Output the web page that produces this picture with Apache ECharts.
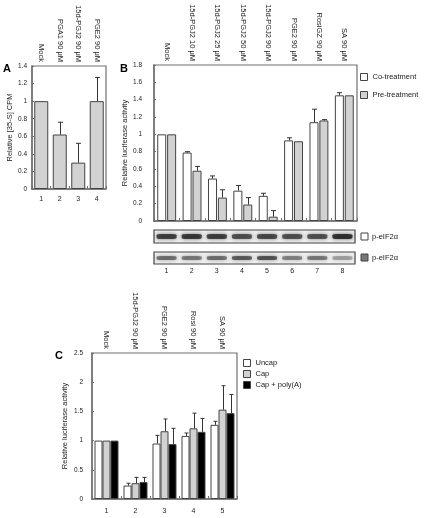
<!DOCTYPE html>
<html><head><meta charset="utf-8">
<script src="https://cdn.jsdelivr.net/npm/echarts@6/dist/echarts.min.js"></script>
<style>html,body{margin:0;padding:0;background:#fff}#c{width:425px;height:518px}</style>
</head><body><div id="c"></div>
<script>
// Panel A
const aCats = ['Mock','PGA1 90 μM','15d-PGJ2 90 μM','PGE2 90 μM'];
const aNums = ['1','2','3','4'];
const aVals = [1, 0.62, 0.30, 1.0];
const aErr  = [0, 0.14, 0.22, 0.27];
// Panel B
const bCats = ['Mock','15d-PGJ2 10 μM','15d-PGJ2 25 μM','15d-PGJ2 50 μM','15d-PGJ2 90 μM','PGE2 90 μM','RosiGZ 90 μM','SA 90 μM'];
const bNums = ['1','2','3','4','5','6','7','8'];
const bCo     = [1, 0.79, 0.49, 0.35, 0.29, 0.93, 1.14, 1.45];
const bCoErr  = [0, 0.01, 0.03, 0.06, 0.03, 0.03, 0.15, 0.03];
const bPre    = [1, 0.58, 0.27, 0.19, 0.05, 0.92, 1.16, 1.45];
const bPreErr = [0, 0.05, 0.09, 0.08, 0.07, 0, 0.01, 0];
// Western blot band intensities (lanes 1-8)
const blotCo  = [0.85, 0.9, 0.85, 0.75, 0.8, 0.75, 0.75, 0.95];
const blotPre = [0.6, 0.55, 0.6, 0.7, 0.75, 0.5, 0.55, 0.35];
// Panel C
const cCats = ['Mock','15d-PGJ2 90 μM','PGE2 90 μM','Rosi 90 μM','SA 90 μM'];
const cNums = ['1','2','3','4','5'];
const cUncap    = [1, 0.23, 0.95, 1.08, 1.27];
const cUncapErr = [0, 0.04, 0.14, 0.05, 0.06];
const cCap      = [1, 0.27, 1.16, 1.21, 1.53];
const cCapErr   = [0, 0.10, 0.21, 0.26, 0.41];
const cPoly     = [1, 0.29, 0.94, 1.15, 1.47];
const cPolyErr  = [0, 0.08, 0.27, 0.23, 0.32];

const FONT = 'Liberation Sans, Arial, sans-serif';
const AX = '#707070';
const GRAY = '#d2d2d2';
const EDGE = '#444';

function errSeries(xi, yi, vals, errs, offset, capW) {
  return {
    type: 'custom', xAxisIndex: xi, yAxisIndex: yi, z: 5, silent: true,
    data: vals.map((v, i) => [i, v, v + errs[i]]),
    encode: { x: 0, y: [1, 2] },
    renderItem: (params, api) => {
      const i = api.value(0), lo = api.value(1), hi = api.value(2);
      if (hi - lo < 1e-6) return null;
      const p0 = api.coord([i, lo]), p1 = api.coord([i, hi]);
      const x = Math.round(p0[0] + offset) + 0.5;
      const st = { stroke: '#333', lineWidth: 1 };
      return { type: 'group', children: [
        { type: 'line', shape: { x1: x, y1: p0[1], x2: x, y2: p1[1] }, style: st },
        { type: 'line', shape: { x1: x - capW / 2, y1: p1[1], x2: x + capW / 2, y2: p1[1] }, style: st }
      ]};
    }
  };
}
function bar(name, xi, yi, data, color, w, gap) {
  return { name, type: 'bar', xAxisIndex: xi, yAxisIndex: yi, data, barWidth: w, barGap: gap,
    itemStyle: { color, borderColor: EDGE, borderWidth: 1 } };
}
function bottomAxis(gi, data, showLabels, margin) {
  return { type: 'category', gridIndex: gi, data, position: 'bottom',
    axisLine: { show: true, lineStyle: { color: AX, width: 1.5 } },
    axisTick: { show: true, inside: true, length: 3, lineStyle: { color: AX } },
    axisLabel: { show: showLabels, fontFamily: FONT, fontSize: 7, color: '#222', margin } };
}
function topAxis(gi, data) {
  return { type: 'category', gridIndex: gi, data, position: 'top',
    axisLine: { show: false }, axisTick: { show: false },
    axisLabel: { interval: 0, rotate: 90, fontFamily: FONT, fontSize: 7.5, color: '#222', margin: 4 } };
}
function valAxis(gi, max, interval, name, margin, nameGap) {
  return { type: 'value', gridIndex: gi, min: 0, max, interval, name, nameLocation: 'middle', nameGap,
    nameTextStyle: { fontFamily: FONT, fontSize: 7.5, color: '#222' },
    axisLine: { show: true, lineStyle: { color: AX, width: 1.5 } },
    axisTick: { show: true, inside: true, length: 2, lineStyle: { color: AX } },
    splitLine: { show: false },
    axisLabel: { fontFamily: FONT, fontSize: 6.5, color: '#222', margin } };
}
function blotSeries(xi, yi, vals, h) {
  return { type: 'scatter', xAxisIndex: xi, yAxisIndex: yi, silent: true,
    data: vals.map((v, i) => [i, 0.5, v]),
    symbol: 'roundRect', symbolSize: [20, h],
    itemStyle: { color: p => 'rgba(15,15,15,' + p.data[2] + ')', shadowBlur: 4,
      shadowColor: 'rgba(15,15,15,0.8)' } };
}

const chart = echarts.init(document.getElementById('c'), null, { renderer: 'canvas' });
const gridBox = { show: true, borderColor: AX, borderWidth: 1.2, backgroundColor: 'transparent', containLabel: false };
chart.setOption({
  animation: false,
  backgroundColor: '#fff',
  textStyle: { fontFamily: FONT },
  grid: [
    Object.assign({ left: 32, top: 66, width: 74, height: 123 }, gridBox),
    Object.assign({ left: 154, top: 65, width: 203, height: 156 }, gridBox),
    { show: true, left: 154, top: 230, width: 201, height: 13, backgroundColor: '#f2f2f2', borderColor: '#444', borderWidth: 1.2 },
    { show: true, left: 154, top: 252, width: 201, height: 12, backgroundColor: '#f2f2f2', borderColor: '#444', borderWidth: 1.2 },
    Object.assign({ left: 92, top: 353, width: 145, height: 146 }, gridBox)
  ],
  xAxis: [
    bottomAxis(0, aNums, true, 7),
    topAxis(0, aCats),
    bottomAxis(1, bNums, false, 5),
    topAxis(1, bCats),
    { type: 'category', gridIndex: 2, data: bNums, show: false },
    { type: 'category', gridIndex: 3, data: bNums, axisLine: { show: false }, axisTick: { show: false },
      axisLabel: { fontFamily: FONT, fontSize: 7, color: '#222', margin: 4 } },
    bottomAxis(4, cNums, true, 9),
    topAxis(4, cCats)
  ],
  yAxis: [
    valAxis(0, 1.4, 0.2, 'Relative [35-S] CPM', 5, 17),
    valAxis(1, 1.8, 0.2, 'Relative luciferase activity', 12, 23),
    { type: 'value', gridIndex: 2, min: 0, max: 1, show: false },
    { type: 'value', gridIndex: 3, min: 0, max: 1, show: false },
    valAxis(4, 2.5, 0.5, 'Relative luciferase activity', 9, 23)
  ],
  legend: [
    { left: 360, top: 73, orient: 'vertical', padding: 0, itemGap: 10, itemWidth: 7, itemHeight: 7, icon: 'rect',
      itemStyle: { borderColor: EDGE, borderWidth: 1 },
      textStyle: { fontFamily: FONT, fontSize: 7.5, color: '#222' }, data: ['Co-treatment', 'Pre-treatment'] },
    { left: 243, top: 359, orient: 'vertical', padding: 0, itemGap: 3, itemWidth: 7, itemHeight: 7, icon: 'rect',
      itemStyle: { borderColor: EDGE, borderWidth: 1 },
      textStyle: { fontFamily: FONT, fontSize: 7.5, color: '#222' }, data: ['Uncap', 'Cap', 'Cap + poly(A)'] }
  ],
  graphic: [
    { type: 'text', style: { x: 3, y: 69, text: 'A', fontFamily: FONT, fontWeight: 'bold', fontSize: 11, fill: '#000', textVerticalAlign: 'middle' } },
    { type: 'text', style: { x: 120, y: 69, text: 'B', fontFamily: FONT, fontWeight: 'bold', fontSize: 11, fill: '#000', textVerticalAlign: 'middle' } },
    { type: 'text', style: { x: 55, y: 356, text: 'C', fontFamily: FONT, fontWeight: 'bold', fontSize: 11, fill: '#000', textVerticalAlign: 'middle' } },
    { type: 'rect', shape: { x: 361, y: 233, width: 7, height: 7 }, style: { fill: '#fff', stroke: EDGE, lineWidth: 1 } },
    { type: 'text', style: { x: 372, y: 237, text: 'p-eIF2α', fontFamily: FONT, fontSize: 7.5, fill: '#222', textVerticalAlign: 'middle' } },
    { type: 'rect', shape: { x: 361, y: 254, width: 7, height: 7 }, style: { fill: '#777', stroke: EDGE, lineWidth: 1 } },
    { type: 'text', style: { x: 372, y: 258, text: 'p-eIF2α', fontFamily: FONT, fontSize: 7.5, fill: '#222', textVerticalAlign: 'middle' } }
  ],
  series: [
    bar('A', 0, 0, aVals, GRAY, 14, '0%'),
    errSeries(0, 0, aVals, aErr, 0, 5),
    bar('Co-treatment', 2, 1, bCo, '#fff', 9, '10%'),
    bar('Pre-treatment', 2, 1, bPre, GRAY, 9, '10%'),
    errSeries(2, 1, bCo, bCoErr, -4.95, 5),
    errSeries(2, 1, bPre, bPreErr, 4.95, 5),
    blotSeries(4, 2, blotCo, 5),
    blotSeries(5, 3, blotPre, 4),
    bar('Uncap', 6, 4, cUncap, '#fff', 8, '0%'),
    bar('Cap', 6, 4, cCap, GRAY, 8, '0%'),
    bar('Cap + poly(A)', 6, 4, cPoly, '#000', 8, '0%'),
    errSeries(6, 4, cUncap, cUncapErr, -8, 4),
    errSeries(6, 4, cCap, cCapErr, 0, 4),
    errSeries(6, 4, cPoly, cPolyErr, 8, 4)
  ]
});
</script></body></html>
